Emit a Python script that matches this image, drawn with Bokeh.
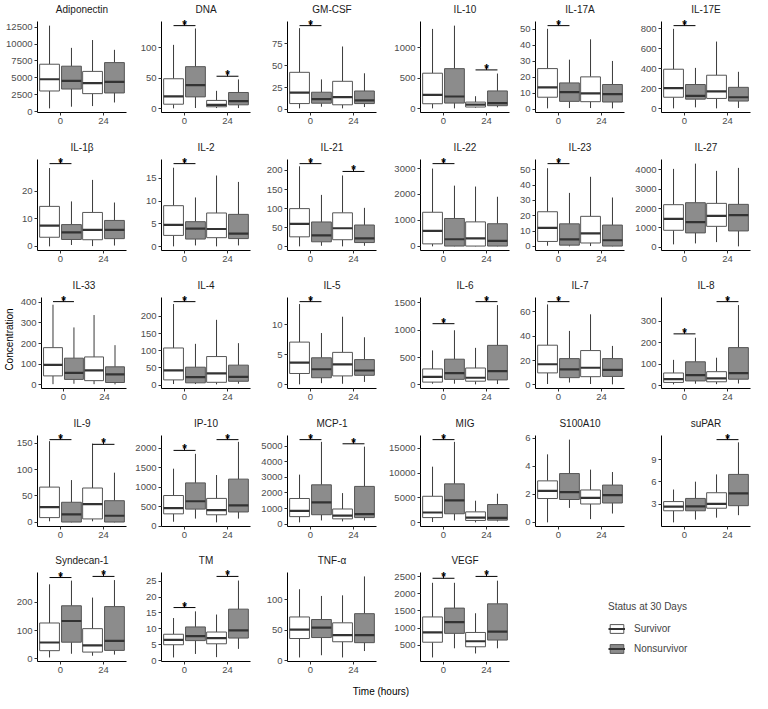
import numpy as np
from bokeh.plotting import figure
from bokeh.models import ColumnDataSource, Range1d, FixedTicker, Label, Legend, LegendItem, Div
from bokeh.layouts import row, column
from bokeh.embed import file_html
from bokeh.resources import INLINE

# ---------------- data ----------------
times = ["0", "24"]
groups = ["Survivor", "Nonsurvivor"]
group_fill = ["#ffffff", "#8c8c8c"]

# box order: (0, Survivor), (0, Nonsurvivor), (24, Survivor), (24, Nonsurvivor)
# each: lower whisker, Q1, median, Q3, upper whisker
adiponectin = [[480, 3050, 4790, 7010, 12720], [725, 3340, 4545, 6720, 9430], [820, 2660, 4200, 5950, 10590], [1350, 2760, 4400, 7250, 9140]]
dna = [[1, 7.8, 20.8, 49.5, 105], [1.6, 19.8, 39, 69.3, 131.8], [1.5, 3.6, 6.8, 14, 29.7], [1.5, 6.8, 13, 27, 48.4]]
gmcsf = [[1.1, 6.6, 19.2, 42.4, 93], [3, 7, 11.8, 19.6, 34.3], [1.1, 5.2, 14, 32.1, 72], [2.6, 6.6, 10.3, 21, 41.3]]
il10 = [[5, 81, 227, 584, 1313], [5, 92, 200, 659, 1367], [16, 27, 65, 108, 205], [22, 49, 92, 292, 578]]
il17a = [[0.4, 7.4, 13.6, 25.4, 50.4], [0.6, 4.8, 10.6, 16.4, 31], [0.6, 4.6, 9.8, 20.2, 43.8], [0.4, 4.4, 9.4, 15.4, 30.2]]
il17e = [[6, 117, 209, 397, 800], [16, 98, 130, 244, 410], [6, 105, 175, 337, 673], [10, 79, 117, 216, 371]]
il1b = [[0, 3.3, 7.5, 14.5, 28.4], [0.5, 2.5, 5.1, 7.9, 16.3], [0.1, 2.4, 6, 12.3, 24.1], [0.3, 2.8, 6, 9.4, 15.9]]
il2 = [[0.1, 2.5, 4.8, 9, 17.3], [0.3, 1.7, 4, 5.5, 10.8], [0.1, 2, 3.9, 7.4, 15.6], [0.3, 1.8, 2.9, 7.1, 14.2]]
il21 = [[1, 26, 60, 100, 211], [2.5, 13, 30, 65, 136], [1, 18.4, 48.5, 89, 187], [2.5, 11, 22, 57, 102]]
il22 = [[0, 96, 598, 1315, 3000], [0, 12, 275, 1075, 2342], [0, 12, 311, 944, 2306], [0, 12, 215, 872, 1912]]
il23 = [[0.4, 3.2, 12.1, 22.6, 51], [0, 0.8, 4.6, 14.7, 34.9], [0.2, 2.2, 8.5, 19.6, 45.4], [0, 0.2, 4, 13.9, 31.9]]
il27 = [[153, 881, 1475, 2203, 4051], [203, 746, 1305, 2305, 4322], [271, 1085, 1627, 2271, 3949], [51, 848, 1661, 2220, 4102]]
il33 = [[3, 43, 96, 180, 388], [5, 26, 58, 129, 278], [3, 20, 70, 135, 338], [2, 11, 50, 87, 192]]
il4 = [[3, 15, 43, 108, 236], [3, 6.5, 23, 52, 120], [2, 8, 34, 83, 190], [4, 11, 24, 58, 122]]
il5 = [[0.1, 1.9, 3.7, 7.1, 13.4], [0.3, 1.2, 2.6, 4.5, 8.6], [0.2, 1.5, 3.4, 5.4, 11.3], [0.5, 1.6, 2.4, 4.2, 7.9]]
il6 = [[23, 52, 149, 293, 632], [23, 103, 218, 471, 1000], [11, 69, 132, 310, 678], [17, 92, 253, 724, 1460]]
il7 = [[0.8, 9.9, 17, 32.6, 66], [2, 6, 12.8, 21.6, 44.3], [0.8, 6.8, 14.1, 28.2, 57.9], [0.5, 7, 12.3, 21.6, 32]]
il8 = [[6, 15, 30, 59, 120], [9, 22, 49, 111, 223], [7, 18, 34, 65, 130], [10, 30, 58, 177, 375]]
il9 = [[2, 9, 29, 66.7, 153.6], [0, 0.6, 15, 38, 80], [2, 6.5, 34.5, 65, 149], [0, 0.6, 12.5, 41, 94]]
ip10 = [[114, 317, 463, 789, 1480], [195, 439, 642, 1114, 1862], [98, 293, 415, 715, 1317], [195, 366, 537, 1211, 2171]]
mcp1 = [[122, 488, 854, 1647, 3172], [244, 610, 1403, 2521, 5266], [183, 346, 549, 976, 1992], [244, 427, 651, 2419, 4960]]
mig = [[128, 1026, 2051, 5320, 11282], [449, 1795, 4487, 7820, 16282], [64, 449, 1026, 2179, 4423], [256, 513, 962, 3654, 5833]]
s100a10 = [[0, 1.70, 2.24, 2.96, 4.85], [1.03, 1.63, 2.15, 3.48, 5.9], [0.23, 1.31, 1.75, 2.31, 3.76], [0.63, 1.38, 1.94, 2.66, 3.59]]
supar = [[0.6, 2.15, 2.7, 3.38, 4.99], [0.97, 2.15, 2.75, 3.8, 6.04], [1.23, 2.49, 3.08, 4.56, 7.01], [1.56, 2.83, 4.48, 7.01, 11.3]]
syndecan1 = [[5, 29, 58, 127, 264], [18, 59, 134, 188, 277], [11, 24, 48, 107, 217], [15, 30, 64, 185, 279]]
tm = [[1, 5, 6.5, 8.3, 13.4], [2.1, 6.3, 7.7, 10.6, 15.5], [1.1, 5.3, 7.1, 9, 14.5], [3.7, 7.1, 9.5, 16.2, 25.2]]
tnfa = [[5.3, 36.3, 51, 71.6, 117], [8.9, 37.9, 54.2, 67.4, 106], [5.3, 31, 42, 62, 107], [15.8, 29.5, 42, 77, 138]]
vegf = [[150, 593, 876, 1327, 2319], [416, 850, 1177, 1584, 2319], [266, 460, 620, 876, 1434], [416, 655, 903, 1708, 2381]]

# y-axis tick values
adiponectin_ticks = [0, 2500, 5000, 7500, 10000, 12500]
dna_ticks = [0, 50, 100]
gmcsf_ticks = [0, 25, 50, 75]
il10_ticks = [0, 500, 1000]
il17a_ticks = [0, 10, 20, 30, 40, 50]
il17e_ticks = [0, 200, 400, 600, 800]
il1b_ticks = [0, 10, 20]
il2_ticks = [0, 5, 10, 15]
il21_ticks = [0, 50, 100, 150, 200]
il22_ticks = [0, 1000, 2000, 3000]
il23_ticks = [0, 10, 20, 30, 40, 50]
il27_ticks = [0, 1000, 2000, 3000, 4000]
il33_ticks = [0, 100, 200, 300, 400]
il4_ticks = [0, 50, 100, 150, 200]
il5_ticks = [0, 5, 10]
il6_ticks = [0, 500, 1000, 1500]
il7_ticks = [0, 20, 40, 60]
il8_ticks = [0, 100, 200, 300]
il9_ticks = [0, 50, 100, 150]
ip10_ticks = [0, 500, 1000, 1500, 2000]
mcp1_ticks = [0, 1000, 2000, 3000, 4000, 5000]
mig_ticks = [0, 5000, 10000, 15000]
s100a10_ticks = [0, 2, 4, 6]
supar_ticks = [3, 6, 9]
syndecan1_ticks = [0, 100, 200]
tm_ticks = [0, 5, 10, 15, 20, 25]
tnfa_ticks = [0, 50, 100]
vegf_ticks = [500, 1000, 1500, 2000, 2500]

# significance brackets: (time, bracket height)
adiponectin_sig = []
dna_sig = [("0", 136.5), ("24", 53.6)]
gmcsf_sig = [("0", 95.9)]
il10_sig = [("24", 638)]
il17a_sig = [("0", 52.4)]
il17e_sig = [("0", 832)]
il1b_sig = [("0", 30)]
il2_sig = [("0", 18.2)]
il21_sig = [("0", 218), ("24", 197.5)]
il22_sig = [("0", 3190)]
il23_sig = [("0", 54)]
il27_sig = []
il33_sig = [("0", 403)]
il4_sig = [("0", 243)]
il5_sig = [("0", 13.8)]
il6_sig = [("0", 1120), ("24", 1523)]
il7_sig = [("0", 68.3)]
il8_sig = [("0", 241), ("24", 391)]
il9_sig = [("0", 156.5), ("24", 147.6)]
ip10_sig = [("0", 1951), ("24", 2228)]
mcp1_sig = [("0", 5408), ("24", 5143)]
mig_sig = [("0", 16730)]
s100a10_sig = []
supar_sig = [("24", 11.66)]
syndecan1_sig = [("0", 288), ("24", 292)]
tm_sig = [("0", 16.7), ("24", 26.5)]
tnfa_sig = []
vegf_sig = [("0", 2451), ("24", 2505)]

panels = [
    ("Adiponectin", adiponectin, adiponectin_ticks, adiponectin_sig),
    ("DNA", dna, dna_ticks, dna_sig),
    ("GM-CSF", gmcsf, gmcsf_ticks, gmcsf_sig),
    ("IL-10", il10, il10_ticks, il10_sig),
    ("IL-17A", il17a, il17a_ticks, il17a_sig),
    ("IL-17E", il17e, il17e_ticks, il17e_sig),
    ("IL-1\u03b2", il1b, il1b_ticks, il1b_sig),
    ("IL-2", il2, il2_ticks, il2_sig),
    ("IL-21", il21, il21_ticks, il21_sig),
    ("IL-22", il22, il22_ticks, il22_sig),
    ("IL-23", il23, il23_ticks, il23_sig),
    ("IL-27", il27, il27_ticks, il27_sig),
    ("IL-33", il33, il33_ticks, il33_sig),
    ("IL-4", il4, il4_ticks, il4_sig),
    ("IL-5", il5, il5_ticks, il5_sig),
    ("IL-6", il6, il6_ticks, il6_sig),
    ("IL-7", il7, il7_ticks, il7_sig),
    ("IL-8", il8, il8_ticks, il8_sig),
    ("IL-9", il9, il9_ticks, il9_sig),
    ("IP-10", ip10, ip10_ticks, ip10_sig),
    ("MCP-1", mcp1, mcp1_ticks, mcp1_sig),
    ("MIG", mig, mig_ticks, mig_sig),
    ("S100A10", s100a10, s100a10_ticks, s100a10_sig),
    ("suPAR", supar, supar_ticks, supar_sig),
    ("Syndecan-1", syndecan1, syndecan1_ticks, syndecan1_sig),
    ("TM", tm, tm_ticks, tm_sig),
    ("TNF-\u03b1", tnfa, tnfa_ticks, tnfa_sig),
    ("VEGF", vegf, vegf_ticks, vegf_sig),
]

# ---------------- layout / style ----------------
FONT = "Liberation Sans"
COL_W = [128, 124, 126, 133, 115, 126]
COL_B = [37, 33, 35, 42, 24, 35]
ROW_H = [138, 138, 138, 138, 126]
ROW_T = [21, 21, 21, 21, 18]        # visual top of the panel (axis-line top)
ROW_BOT = [26, 26, 26, 26, 17]
HEAD = 7                            # extra headroom inside the frame for the asterisks
OFF = 0.255
BW = 0.46
LINE = "#3a3a3a"


def make_panel(title, stats, ticks, sig, ci, ri):
    st = np.array(stats, dtype=float)
    lows, q1, med, q3, highs = st.T
    tops = list(highs) + [y for _, y in sig]
    lo = float(lows.min())
    hi = float(max(tops))
    span = hi - lo
    y0 = lo - 0.05 * span
    y1 = hi + 0.05 * span
    panel_px = ROW_H[ri] - ROW_T[ri] - ROW_BOT[ri]
    y1x = y1 + HEAD * (y1 - y0) / panel_px
    p = figure(width=COL_W[ci], height=ROW_H[ri],
               x_range=Range1d(0.465, 2.535),
               y_range=Range1d(y0, y1x),
               output_backend="svg", toolbar_location=None,
               min_border_left=COL_B[ci], min_border_right=2,
               min_border_top=ROW_T[ri] - HEAD, min_border_bottom=ROW_BOT[ri],
               title=title)
    p.title.align = "center"
    p.title.text_font = FONT
    p.title.text_font_size = "10px"
    p.title.text_font_style = "normal"
    p.title.text_color = "#1a1a1a"
    p.title.standoff = 0
    p.grid.visible = False
    p.outline_line_color = None

    xc = []
    fills = []
    for ti in range(len(times)):
        for gi in range(len(groups)):
            xc.append(ti + 1 + (OFF if gi == 1 else -OFF))
            fills.append(group_fill[gi])
    xc = np.array(xc)
    src = ColumnDataSource(dict(x=xc, left=xc - BW / 2, right=xc + BW / 2,
                                lo=lows, q1=q1, med=med, q3=q3, hi=highs, fill=fills))
    p.segment(x0="x", y0="q3", x1="x", y1="hi", source=src, line_color=LINE, line_width=1)
    p.segment(x0="x", y0="lo", x1="x", y1="q1", source=src, line_color=LINE, line_width=1)
    p.quad(left="left", right="right", bottom="q1", top="q3", source=src,
           fill_color="fill", line_color="#555555", line_width=1)
    p.segment(x0="left", y0="med", x1="right", y1="med", source=src,
              line_color="#333333", line_width=2.2)

    if sig:
        tpos = np.array([times.index(t) + 1 for t, _ in sig], dtype=float)
        ys = np.array([y for _, y in sig], dtype=float)
        ssrc = ColumnDataSource(dict(x0=tpos - OFF, x1=tpos + OFF, xm=tpos, y=ys,
                                     ys=ys + 0.035 * span))
        p.segment(x0="x0", y0="y", x1="x1", y1="y", source=ssrc, line_color="black", line_width=1)
        p.segment(x0="xm", y0="y", x1="xm", y1="ys", source=ssrc, line_color="black", line_width=1)
        for xm, yv in zip(tpos, ys):
            p.add_layout(Label(x=float(xm), y=float(yv), y_offset=1, text="*", text_align="center",
                               text_baseline="alphabetic", text_font=FONT, text_font_size="12px",
                               text_font_style="bold", text_color="black"))

    for ax in (p.xaxis[0], p.yaxis[0]):
        ax.axis_line_color = "black"
        ax.axis_line_width = 1
        ax.major_tick_line_color = "#333333"
        ax.major_tick_out = 3
        ax.major_tick_in = 0
        ax.minor_tick_out = 0
        ax.minor_tick_in = 0
        ax.major_label_text_font = FONT
        ax.major_label_text_font_size = "9.5px"
        ax.major_label_text_color = "#4d4d4d"
        ax.major_label_standoff = 2
    p.xaxis.ticker = FixedTicker(ticks=[1, 2])
    p.xaxis.major_label_overrides = {i + 1: t for i, t in enumerate(times)}
    p.yaxis.ticker = FixedTicker(ticks=ticks)
    p.yaxis.bounds = (y0, y1)
    return p


figs = []
for k, (title, stats, ticks, sig) in enumerate(panels):
    figs.append(make_panel(title, stats, ticks, sig, k % 6, k // 6))

# y-axis title on the middle row
ylab = figs[12].yaxis[0]
ylab.axis_label = "Concentration"
ylab.axis_label_text_font = FONT
ylab.axis_label_text_font_size = "10px"
ylab.axis_label_text_font_style = "normal"
ylab.axis_label_text_color = "black"
ylab.axis_label_standoff = 3

# legend panel
lw = sum(COL_W) - sum(COL_W[:4])
lp = figure(width=lw, height=ROW_H[4], x_range=Range1d(0, 1), y_range=Range1d(0, 1),
            x_axis_type=None, y_axis_type=None, output_backend="svg", toolbar_location=None,
            min_border=0)
lp.grid.visible = False
lp.outline_line_color = None
items = []
for g, fc in zip(groups, group_fill):
    rq = lp.quad(left=[np.nan], right=[np.nan], top=[np.nan], bottom=[np.nan],
                 fill_color=fc, line_color="#555555", line_width=1)
    rm = lp.segment(x0=[np.nan], y0=[np.nan], x1=[np.nan], y1=[np.nan],
                    line_color="#333333", line_width=2)
    items.append(LegendItem(label=g, renderers=[rq, rm]))
leg = Legend(items=items, location=(97, 3), title="Status at 30 Days",
             title_text_font=FONT, title_text_font_size="10px", title_text_font_style="normal",
             title_standoff=6, label_text_font=FONT, label_text_font_size="10px",
             glyph_width=17, glyph_height=11, label_height=20, label_standoff=9,
             spacing=0, padding=0, margin=0, border_line_color=None, background_fill_alpha=0)
lp.add_layout(leg)

rows = [row(*figs[r * 6:(r + 1) * 6]) for r in range(4)]
rows.append(row(*figs[24:], lp))
xlab = Div(text='<div style="width:%dpx;text-align:center;font-family:Liberation Sans;'
                'font-size:10px;line-height:14px;color:black">Time (hours)</div>' % sum(COL_W),
           width=sum(COL_W), height=14)
layout = column(*rows, xlab)

open("out.html", "w").write(file_html(layout, INLINE))
